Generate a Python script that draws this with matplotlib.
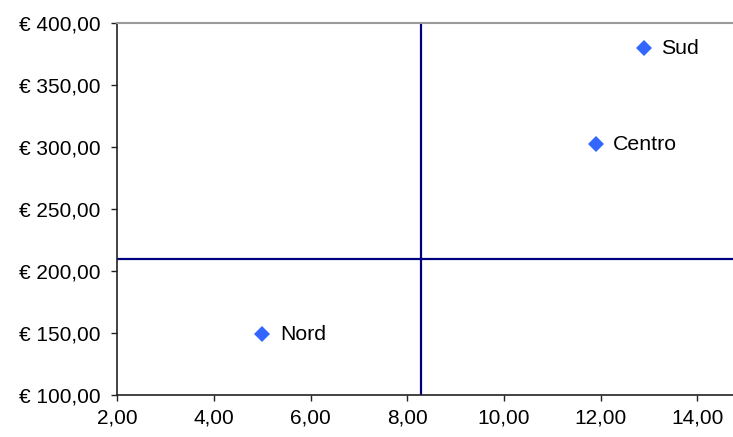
import matplotlib
matplotlib.use("Agg")
import matplotlib.pyplot as plt
from matplotlib.ticker import FuncFormatter

labels = ["Nord", "Centro", "Sud"]
x_vals = [5.0, 11.9, 12.9]
y_vals = [149.0, 302.0, 379.5]
x_ref = 8.28
y_ref = 209.4
x_ticks = [2, 4, 6, 8, 10, 12, 14]
y_ticks = [100, 150, 200, 250, 300, 350, 400]

plt.rcParams['font.family'] = ['Liberation Sans', 'DejaVu Sans']

fig = plt.figure(figsize=(7.33, 4.37), dpi=100)
ax = fig.add_axes([0.1603, 0.0961, 1 - 0.1603, 0.948 - 0.0961])

ax.set_xlim(2, 14.74)
ax.set_ylim(100, 400)

ax.axvline(x_ref, color='#000080', lw=1.6, zorder=2)
ax.axhline(y_ref, color='#000080', lw=1.6, zorder=2)

ax.plot(x_vals, y_vals, linestyle='none', marker='D', markersize=8.5,
        color='#3366FF', markeredgewidth=0, zorder=3)
for xv, yv, lab in zip(x_vals, y_vals, labels):
    ax.annotate(lab, (xv, yv), xytext=(12.5, 0), textcoords='offset points',
                va='center', ha='left', fontsize=15.3, color='black')

ax.set_xticks(x_ticks)
ax.set_yticks(y_ticks)
ax.xaxis.set_major_formatter(FuncFormatter(lambda v, p: f"{v:.2f}".replace('.', ',')))
ax.yaxis.set_major_formatter(FuncFormatter(lambda v, p: "€ " + f"{v:.2f}".replace('.', ',')))
ax.tick_params(axis='both', direction='out', length=4, width=1, color='#222222',
               labelsize=15, pad=8)
ax.tick_params(axis='x', pad=6)

for s in ['left', 'bottom']:
    ax.spines[s].set_color('#222222')
    ax.spines[s].set_linewidth(1.2)
ax.spines['top'].set_color('#9a9a9a')
ax.spines['top'].set_linewidth(1.5)
ax.spines['right'].set_visible(False)

fig.savefig('out.png', dpi=100)
